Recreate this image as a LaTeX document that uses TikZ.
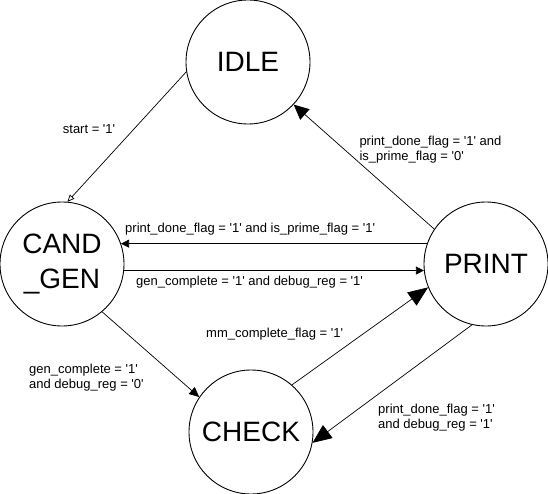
\documentclass[tikz,border=0pt]{standalone}
\usepackage{fontspec}
\setmainfont{Liberation Sans}
\usetikzlibrary{arrows.meta}
\newcommand{\flagval}[1]{\textquotesingle#1\textquotesingle}
\tikzset{
  state/.style={draw,circle,line width=0.9pt,minimum size=124pt,inner sep=0pt,
    align=center,font=\fontsize{28}{35}\selectfont},
  cond/.style={anchor=west,inner sep=0pt,align=left,font=\fontsize{13}{15}\selectfont},
  trans/.style={line width=0.7pt},
}
\begin{document}
\begin{tikzpicture}[x=1pt,y=-1pt]
  \useasboundingbox (0,0) rectangle (548,494);
  \node[state] (idle) at (248,62) {IDLE};
  \node[state] (cand) at (62,264) {CAND\\\_GEN};
  \node[state] (print) at (486,264) {PRINT};
  \node[state] (check) at (251,432) {CHECK};
  \draw[trans,-{Triangle[open,length=7pt,width=6pt]}] (idle.189) -- (cand.85);
  \draw[trans,-{Triangle[length=8pt,width=8pt]}] (print.161) -- (cand.19);
  \draw[trans,-{Triangle[length=8pt,width=8pt]}] (cand.-6) -- (print.186);
  \draw[trans,-{Triangle[length=15pt,width=14pt]}] (print.146) -- (idle.-43);
  \draw[trans,-{Triangle[length=10pt,width=9pt]}] (cand.-50) -- (check.146);
  \draw[trans,-{Triangle[length=20pt,width=16pt]}] (check.49) -- (print.202);
  \draw[trans,-{Triangle[length=19pt,width=16pt]}] (print.257) -- (check.-10);
  \node[cond] (lstart) at (62.7,129) {start = \flagval{1}};
  \node[cond] (lreturn) at (125,229.5) {print\_done\_flag = \flagval{1} and is\_prime\_flag = \flagval{1}};
  \node[cond] (lgen) at (136,282.5) {gen\_complete = \flagval{1} and debug\_reg = \flagval{1}};
  \node[cond] (lidle) at (359.3,149.2) {print\_done\_flag = \flagval{1} and\\is\_prime\_flag = \flagval{0}};
  \node[cond] (lcheck) at (29,378) {gen\_complete = \flagval{1}\\and debug\_reg = \flagval{0}};
  \node[cond] (lmm) at (206,334) {mm\_complete\_flag = \flagval{1}};
  \node[cond] (lback) at (378,417.6) {print\_done\_flag = \flagval{1}\\and debug\_reg = \flagval{1}};
\end{tikzpicture}
\end{document}
